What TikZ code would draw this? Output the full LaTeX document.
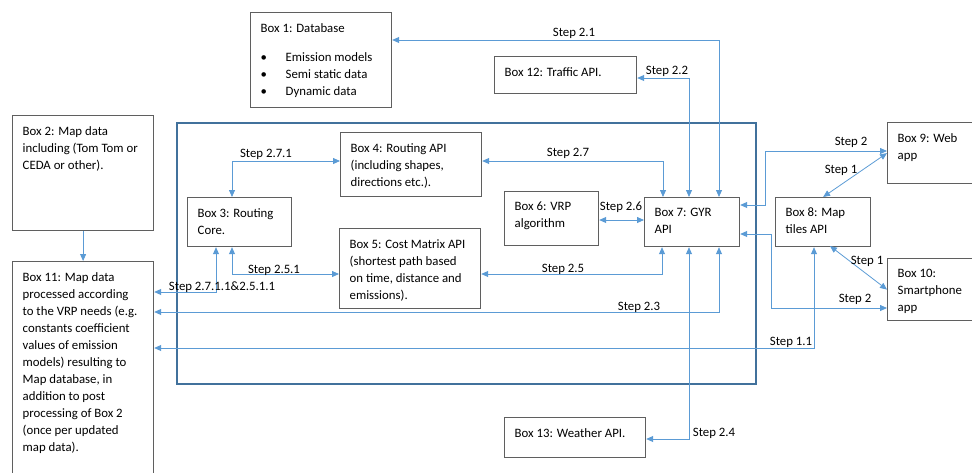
\documentclass[tikz,border=0pt]{standalone}
\usepackage{fontspec}
\setmainfont{Carlito}
\usepackage{tikz}
\usetikzlibrary{positioning}
\usetikzlibrary{arrows.meta}
\definecolor{linkblue}{RGB}{91,155,213}
\definecolor{framecol}{RGB}{65,113,156}
\definecolor{boxgray}{RGB}{95,95,95}
\newcommand{\diagfont}{\fontsize{12.8}{17}\selectfont}
\newcommand{\bul}{\makebox[25pt][l]{\textbullet}}
\tikzset{
  box/.style={draw=boxgray, line width=1.2pt, anchor=north west, inner sep=0pt},
  txt/.style={anchor=north west, align=left, font=\diagfont, inner xsep=10.5pt, inner ysep=11pt},
  link/.style={draw=linkblue, line width=0.8pt, {Triangle[length=7pt,width=6pt]}-{Triangle[length=7pt,width=6pt]}},
  tolink/.style={draw=linkblue, line width=0.8pt, -{Triangle[length=7pt,width=6pt]}},
  steplbl/.style={font=\diagfont, inner sep=0pt}
}

\begin{document}
\begin{tikzpicture}[x=1pt,y=-1pt]
\useasboundingbox (0,0) rectangle (972,472);
% outer frame
\node[box, draw=framecol, line width=1.5pt, minimum width=579pt, minimum height=261pt] (frame) at (176,122) {};
% boxes
\node[box, minimum width=141pt, minimum height=95pt,
  label={[txt]north west:{Box 1: Database\\[12pt]\bul Emission models\\\bul Semi static data\\\bul Dynamic data}}] (b1) at (250,12) {};
\node[box, minimum width=141pt, minimum height=115pt,
  label={[txt]north west:{Box 2: Map data\\including (Tom Tom or\\CEDA or other).}}] (b2) at (12,115) {};
\node[box, minimum width=104pt, minimum height=49pt,
  label={[txt]north west:{Box 3: Routing\\Core.}}] (b3) at (187,197) {};
\node[box, minimum width=141pt, minimum height=64pt,
  label={[txt]north west:{Box 4: Routing API\\(including shapes,\\directions etc.).}}] (b4) at (340,132) {};
\node[box, minimum width=141pt, minimum height=80pt,
  label={[txt]north west:{Box 5: Cost Matrix API\\(shortest path based\\on time, distance and\\emissions).}}] (b5) at (339,228) {};
\node[box, minimum width=94pt, minimum height=54pt,
  label={[txt]north west:{Box 6: VRP\\algorithm}}] (b6) at (504,191) {};
\node[box, minimum width=95pt, minimum height=49pt,
  label={[txt]north west:{Box 7: GYR\\API}}] (b7) at (644,197) {};
\node[box, minimum width=95pt, minimum height=49pt,
  label={[txt]north west:{Box 8: Map\\tiles API}}] (b8) at (775,197) {};
\node[box, minimum width=95pt, minimum height=61pt,
  label={[txt]north west:{Box 9: Web\\app}}] (b9) at (887,122) {};
\node[box, minimum width=95pt, minimum height=62pt,
  label={[txt]north west:{Box 10:\\Smartphone\\app}}] (b10) at (887,258) {};
\node[box, minimum width=141pt, minimum height=220pt,
  label={[txt]north west:{Box 11: Map data\\processed according\\to the VRP needs (e.g.\\constants coefficient\\values of emission\\models) resulting to\\Map database, in\\addition to post\\processing of Box 2\\(once per updated\\map data).}}] (b11) at (12,261) {};
\node[box, minimum width=142pt, minimum height=37pt,
  label={[txt]north west:{Box 12: Traffic API.}}] (b12) at (494,56) {};
\node[box, minimum width=141pt, minimum height=40pt,
  label={[txt]north west:{Box 13: Weather API.}}] (b13) at (504,417) {};
% bends
\coordinate (c21) at (719,40);
\coordinate (c22) at (689,78);
\coordinate (c27) at (663,161);
\coordinate (c26) at (620,220);
\coordinate (c25) at (662,274);
\coordinate (c24) at (689,439);
\coordinate (c23) at (719,312);
\coordinate (c11) at (814,348);
\coordinate (w1) at (765,205);
\coordinate (w2) at (765,151);
\coordinate (s1) at (771,234);
\coordinate (s2) at (771,308);
\coordinate (m1) at (830,246);
\coordinate (c271) at (232,161);
\coordinate (c251) at (232,274);
\coordinate (c2711) at (216,292);
% connectors
\draw[tolink] (b2.south) -- (b2.south |- b11.north);
\draw[link] (b7.north -| c21) |- (b1.east |- c21);
\draw[link] (b7.north -| c22) |- (b12.east |- c22);
\draw[link] (b7.north -| c27) |- (b4.east |- c27);
\draw[link] (b6.east |- c26) -- (b7.west |- c26);
\draw[link] (b7.south -| c25) |- (b5.east |- c25);
\draw[link] (b7.south -| c24) |- (b13.east |- c24);
\draw[link] (b7.south -| c23) |- (b11.east |- c23);
\draw[link] (b8.south -| c11) |- (b11.east |- c11);
\draw[link] (b7.east |- w1) -- (w1) |- (b9.west |- w2);
\draw[link] (b7.east |- s1) -- (s1) |- (b10.west |- s2);
\draw[link] (b9.west) -- (b8.north);
\draw[link] (m1) -- (b10.west);
\draw[link] (b3.north -| c271) |- (b4.west |- c271);
\draw[link] (b3.south -| c251) |- (b5.west |- c251);
\draw[link] (b3.south -| c2711) |- (b11.east |- c2711);
% step labels
\node[steplbl] (l21) at (574,33) {Step 2.1};
\node[steplbl] (l22) at (667,71) {Step 2.2};
\node[steplbl] (l27) at (568,153) {Step 2.7};
\node[steplbl] (l26) at (621,207) {Step 2.6};
\node[steplbl] (l25) at (563,269) {Step 2.5};
\node[steplbl] (l23) at (639,307) {Step 2.3};
\node[steplbl] (l24) at (714,433) {Step 2.4};
\node[steplbl] (l11) at (791,342) {Step 1.1};
\node[steplbl] (l2a) at (851,142) {Step 2};
\node[steplbl] (l1a) at (841,170) {Step 1};
\node[steplbl] (l1b) at (867,261) {Step 1};
\node[steplbl] (l2b) at (855,299) {Step 2};
\node[steplbl] (l271) at (266,154) {Step 2.7.1};
\node[steplbl] (l251) at (274,270) {Step 2.5.1};
\node[steplbl] (l2711) at (222,287) {Step 2.7.1.1\&2.5.1.1};
\end{tikzpicture}
\end{document}
